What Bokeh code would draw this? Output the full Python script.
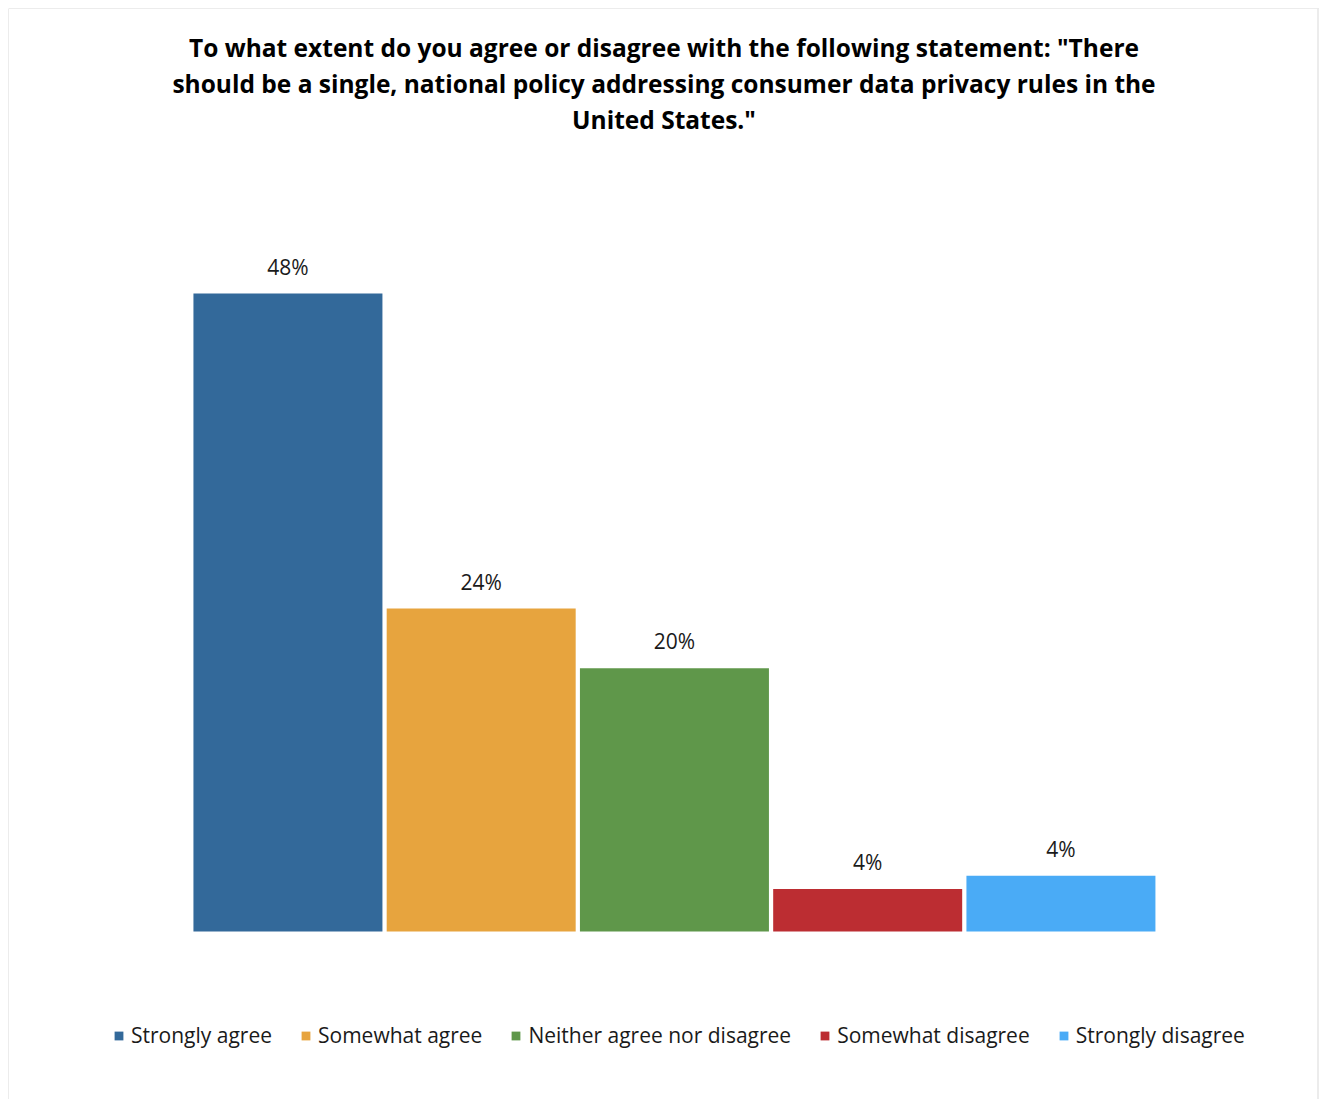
from bokeh.plotting import figure
from bokeh.models import ColumnDataSource, Range1d, Label, Legend, LegendItem, Span
from bokeh.core.properties import value
from bokeh.embed import file_html
from bokeh.resources import INLINE

title_lines = [
    'To what extent do you agree or disagree with the following statement: "There',
    'should be a single, national policy addressing consumer data privacy rules in the',
    'United States."',
]
categories = ["Strongly agree", "Somewhat agree", "Neither agree nor disagree",
              "Somewhat disagree", "Strongly disagree"]
values = [48.0, 24.3, 19.8, 3.2, 4.2]
value_labels = ["48%", "24%", "20%", "4%", "4%"]
colors = ["#33699A", "#E7A43E", "#5F974A", "#BC2D32", "#4AABF6"]

FONT = "Open Sans"
FW, FH = 1311, 1091  # frame size
OFF = 8

src = ColumnDataSource(dict(
    x=list(range(len(categories))),
    top=values,
    cat=categories,
    lab=value_labels,
    color=colors,
))

xr = Range1d(-1.446, 5.338)
yr = Range1d(-12.64, 69.45)
px = (xr.end - xr.start) / FW  # one screen pixel in x data units

p = figure(width=FW + OFF, height=FH + OFF, output_backend="svg", toolbar_location=None,
           x_axis_type=None, y_axis_type=None, x_range=xr, y_range=yr,
           min_border=0, min_border_left=OFF, min_border_right=0,
           min_border_top=OFF, min_border_bottom=0)
p.background_fill_color = "white"
p.border_fill_color = "white"
p.outline_line_color = None
p.xgrid.visible = False
p.ygrid.visible = False

# chart-area border: left, right and top edges (bottom lies outside the view)
BORDER = "#d9d9d9"
p.add_layout(Span(location=xr.start, dimension="height", line_color=BORDER, line_width=1))
p.add_layout(Span(location=xr.end - 1.5 * px, dimension="height", line_color=BORDER, line_width=1))
p.add_layout(Span(location=yr.end, dimension="width", line_color=BORDER, line_width=1))

bars = p.vbar(x="x", top="top", bottom=0, width=0.978, color="color",
              line_color=None, source=src)

p.text(x="x", y="top", text="lab", source=src, y_offset=-27,
       text_align="center", text_baseline="middle",
       text_font=value(FONT), text_font_size="21px", text_color="#1a1a1a")

for i, line in enumerate(title_lines):
    p.add_layout(Label(x=FW / 2, y=FH - 39 - 36 * i, x_units="screen", y_units="screen",
                       text=line, text_align="center", text_baseline="middle",
                       text_font=FONT, text_font_style="bold",
                       text_font_size="24.5px", text_color="#000000"))

legend = Legend(items=[], location=(105, 50), orientation="horizontal",
                glyph_width=11, glyph_height=11, label_standoff=7, spacing=28,
                padding=0, margin=0, border_line_color=None,
                background_fill_alpha=0,
                label_text_font=FONT, label_text_font_size="21px",
                label_text_color="#1a1a1a")
legend.items = [LegendItem(label=c, renderers=[bars], index=i) for i, c in enumerate(categories)]
p.add_layout(legend)

open("out.html", "w").write(file_html(p, INLINE))
